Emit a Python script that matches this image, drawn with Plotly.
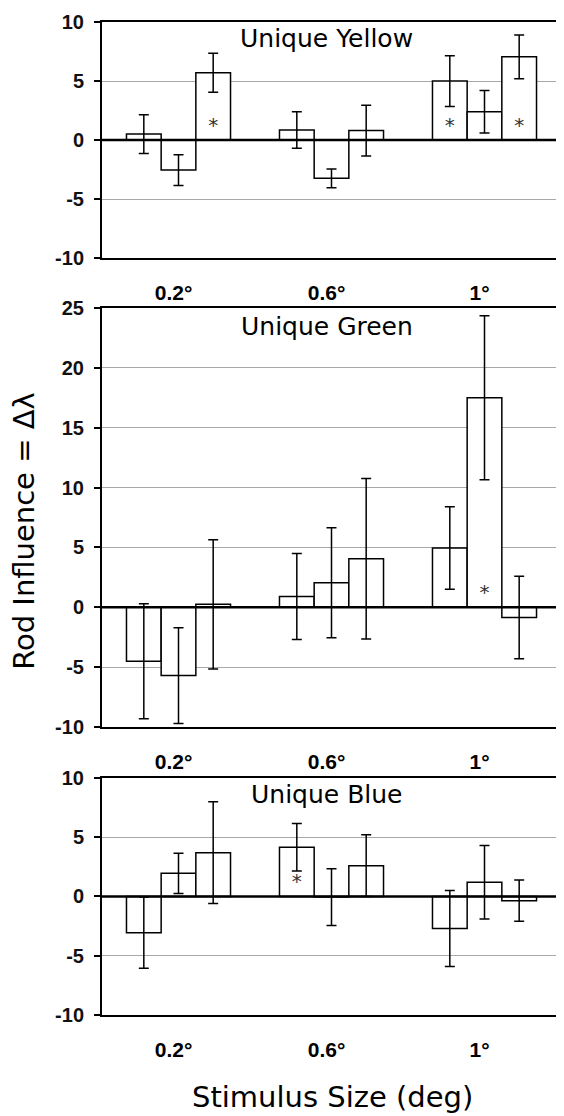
import plotly.graph_objects as go

categories = ["0.2°", "0.6°", "1°"]
series_names = ["Obs 1", "Obs 2", "Obs 3"]

# Unique Yellow
yellow_vals = [[0.5, 0.85, 5.0], [-2.55, -3.25, 2.4], [5.7, 0.8, 7.05]]
yellow_err = [[1.65, 1.55, 2.15], [1.3, 0.8, 1.8], [1.65, 2.15, 1.85]]
yellow_sig = [["", "", "*"], ["", "", ""], ["*", "", "*"]]

# Unique Green
green_vals = [[-4.5, 0.9, 4.95], [-5.7, 2.05, 17.5], [0.25, 4.05, -0.85]]
green_err = [[4.8, 3.6, 3.45], [4.0, 4.6, 6.85], [5.4, 6.7, 3.45]]
green_sig = [["", "", ""], ["", "", "*"], ["", "", ""]]

# Unique Blue
blue_vals = [[-3.05, 4.15, -2.7], [1.95, -0.05, 1.2], [3.7, 2.6, -0.35]]
blue_err = [[3.0, 2.0, 3.2], [1.7, 2.4, 3.1], [4.3, 2.6, 1.75]]
blue_sig = [["", "*", ""], ["", "", ""], ["", "", ""]]

panel_titles = ["Unique Yellow", "Unique Green", "Unique Blue"]
y_ranges = [[-10, 10], [-10, 25], [-10, 10]]
y_tickvals = [[-10, -5, 0, 5, 10], [-10, -5, 0, 5, 10, 15, 20, 25], [-10, -5, 0, 5, 10]]
y_ticktext = [["-10", "-5", "0", "5", "10"],
              ["-10", "-5", "0", "5", "10", "15", "20", "25"],
              ["-10", "-5", "0", "5", "10"]]

panels = [
    (yellow_vals, yellow_err, yellow_sig),
    (green_vals, green_err, green_sig),
    (blue_vals, blue_err, blue_sig),
]

FONT = "DejaVu Sans"
CATFONT = "Liberation Sans"
fig = go.Figure()

domains = [[0.7623, 1.0], [0.2900, 0.7120], [0.0, 0.2387]]
title_y = [0.930, 0.955, 0.932]

for p, (vals, errs, sigs) in enumerate(panels):
    xa = "x" if p == 0 else f"x{p+1}"
    ya = "y" if p == 0 else f"y{p+1}"
    for s in range(3):
        fig.add_trace(go.Bar(
            x=categories, y=vals[s], name=series_names[s],
            xaxis=xa, yaxis=ya, offsetgroup=str(s),
            marker=dict(color="white", line=dict(color="black", width=1.5)),
            error_y=dict(type="data", array=errs[s], color="black", thickness=1.5, width=5),
            text=sigs[s], textposition="inside", insidetextanchor="start",
            textangle=0, textfont=dict(family=FONT, size=20, color="#333"),
            showlegend=False, cliponaxis=False,
        ))
    xkey = "xaxis" if p == 0 else f"xaxis{p+1}"
    ykey = "yaxis" if p == 0 else f"yaxis{p+1}"
    fig.update_layout({
        xkey: dict(domain=[0, 1], anchor=ya, type="category", range=[-0.5, 2.5],
                   showline=True, mirror=True, linecolor="black", linewidth=2,
                   ticks="", ticklabelstandoff=15, ticklabelshift=-5,
                   tickfont=dict(family=CATFONT, size=21, color="black", weight="bold"),
                   showgrid=False),
        ykey: dict(domain=domains[p], anchor=xa, range=y_ranges[p],
                   tickvals=y_tickvals[p], ticktext=y_ticktext[p],
                   showline=True, mirror=True, linecolor="black", linewidth=2,
                   ticks="outside", ticklen=6, tickcolor="black", tickwidth=1.5,
                   ticklabelstandoff=6,
                   tickfont=dict(family=CATFONT, size=20, color="#111", weight="bold"),
                   showgrid=True, gridcolor="#a8a8a8", gridwidth=1,
                   zeroline=False),
    })
    fig.add_shape(type="line", xref=f"{xa} domain", yref=ya, x0=0, x1=1, y0=0, y1=0,
                  line=dict(color="black", width=2.5), layer="above")
    fig.add_annotation(text=panel_titles[p], xref=f"{xa} domain", yref=f"{ya} domain",
                       x=0.49, y=title_y[p], showarrow=False,
                       xanchor="center", yanchor="middle",
                       font=dict(family=FONT, size=25, color="black"))

fig.add_annotation(text="Rod Influence = Δλ", xref="paper", yref="paper",
                   x=-0.169, y=0.488, textangle=-90, showarrow=False,
                   xanchor="center", yanchor="middle",
                   font=dict(family=FONT, size=29, color="black"))
fig.add_annotation(text="Stimulus Size (deg)", xref="paper", yref="paper",
                   x=0.503, y=-0.0826, showarrow=False,
                   xanchor="center", yanchor="middle",
                   font=dict(family=FONT, size=29, color="black"))

# page body has an 8px margin: figure is sized/offset to land plot area at the reference pixels
fig.update_layout(
    width=556, height=1108,
    margin=dict(l=94, r=1, t=14, b=101),
    barmode="group", bargap=0.32, bargroupgap=0,
    plot_bgcolor="white", paper_bgcolor="white",
)

fig.write_html("out.html")
